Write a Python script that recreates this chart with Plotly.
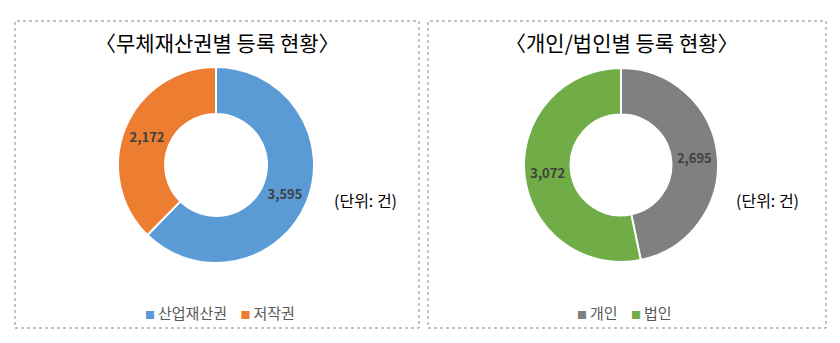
import plotly.graph_objects as go

# Data
left_labels = ["산업재산권", "저작권"]
left_values = [3595, 2172]
left_colors = ["#5B9BD5", "#ED7D31"]

right_labels = ["개인", "법인"]
right_values = [2695, 3072]
right_colors = ["#808080", "#70AD47"]

titles = ["〈무체재산권별 등록 현황〉", "〈개인/법인별 등록 현황〉"]
unit_text = "(단위: 건)"

W, H = 840, 343
FONT = "Noto Sans CJK KR"


def px_dom(cx, cy, r):
    return dict(x=[(cx - r) / W, (cx + r) / W], y=[1 - (cy + r) / H, 1 - (cy - r) / H])


def legend_html(labels, colors):
    parts = []
    for lab, col in zip(labels, colors):
        parts.append(f"<span style='color:{col};font-size:10px'>■</span>&#8201;{lab}")
    return "&nbsp;&nbsp;&nbsp;&nbsp;".join(parts)


fig = go.Figure()
fig.add_trace(go.Pie(
    labels=left_labels, values=left_values, hole=0.52, sort=False,
    direction="clockwise", rotation=0,
    marker=dict(colors=left_colors, line=dict(color="white", width=2)),
    texttemplate="%{value:,}", textposition="inside", insidetextorientation="horizontal",
    textfont=dict(family=FONT, size=13, color="#404040", weight="bold"),
    domain=px_dom(216, 165, 98), showlegend=False, hoverinfo="label+value",
))
fig.add_trace(go.Pie(
    labels=right_labels, values=right_values, hole=0.52, sort=False,
    direction="clockwise", rotation=0,
    marker=dict(colors=right_colors, line=dict(color="white", width=2)),
    texttemplate="%{value:,}", textposition="inside", insidetextorientation="horizontal",
    textfont=dict(family=FONT, size=13, color="#404040", weight="bold"),
    domain=px_dom(621, 165, 97), showlegend=False, hoverinfo="label+value",
))

fig.update_layout(
    width=W, height=H, margin=dict(l=0, r=0, t=0, b=0),
    paper_bgcolor="white", plot_bgcolor="white",
    shapes=[
        dict(type="rect", xref="paper", yref="paper", x0=15 / W, x1=419 / W, y0=1 - 328 / H, y1=1 - 21 / H,
             line=dict(color="#888888", width=1, dash="dot")),
        dict(type="rect", xref="paper", yref="paper", x0=428 / W, x1=826 / W, y0=1 - 328 / H, y1=1 - 21 / H,
             line=dict(color="#888888", width=1, dash="dot")),
    ],
    annotations=[
        dict(text=titles[0], x=217 / W, y=1 - 42 / H, xref="paper", yref="paper", showarrow=False,
             xanchor="center", yanchor="middle", font=dict(family=FONT, size=21, color="black")),
        dict(text=titles[1], x=622 / W, y=1 - 42 / H, xref="paper", yref="paper", showarrow=False,
             xanchor="center", yanchor="middle", font=dict(family=FONT, size=21, color="black")),
        dict(text=unit_text, x=365 / W, y=1 - 200 / H, xref="paper", yref="paper", showarrow=False,
             xanchor="center", yanchor="middle", font=dict(family=FONT, size=16, color="black")),
        dict(text=unit_text, x=767 / W, y=1 - 200 / H, xref="paper", yref="paper", showarrow=False,
             xanchor="center", yanchor="middle", font=dict(family=FONT, size=16, color="black")),
        dict(text=legend_html(left_labels, left_colors), x=220 / W, y=1 - 312 / H, xref="paper", yref="paper",
             showarrow=False, xanchor="center", yanchor="middle",
             font=dict(family=FONT, size=15, color="#595959")),
        dict(text=legend_html(right_labels, right_colors), x=624 / W, y=1 - 312 / H, xref="paper", yref="paper",
             showarrow=False, xanchor="center", yanchor="middle",
             font=dict(family=FONT, size=15, color="#595959")),
    ],
)

fig.write_html("out.html")
